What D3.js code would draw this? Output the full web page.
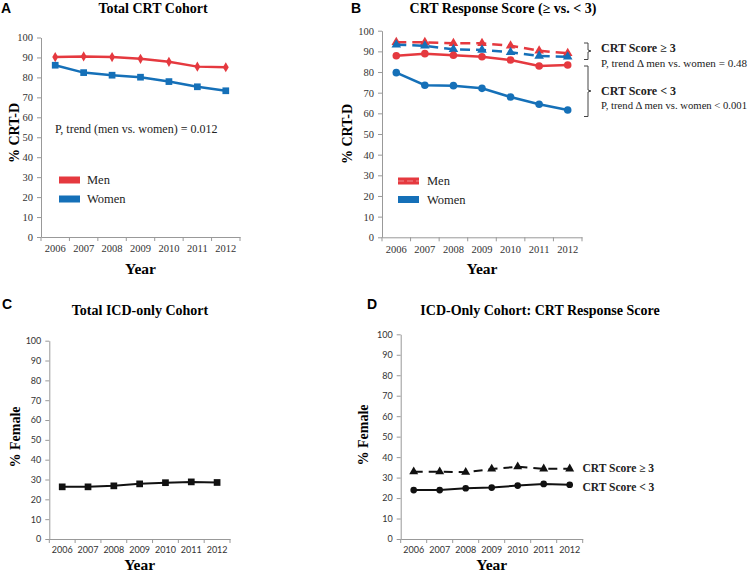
<!DOCTYPE html>
<html><head><meta charset="utf-8">
<script src="https://cdn.jsdelivr.net/npm/d3@7"></script>
<style>
html,body{margin:0;padding:0;background:#fff;}
svg{display:block;}
</style></head>
<body><svg id="c" width="756" height="574"></svg>
<script>
const years = ["2006","2007","2008","2009","2010","2011","2012"];
const yTicks = [0,10,20,30,40,50,60,70,80,90,100];
const aMen   = [90.2, 90.5, 90.2, 89.3, 87.8, 85.4, 85.1];
const aWomen = [86.1, 82.4, 81.1, 80.1, 77.9, 75.3, 73.3];
const bMenHigh   = [94.4, 94.4, 93.9, 93.9, 92.7, 90.3, 89.1];
const bWomenHigh = [93.2, 92.7, 91.0, 90.7, 89.6, 87.8, 87.4];
const bMenLow    = [87.9, 88.9, 88.1, 87.4, 85.8, 82.9, 83.4];
const bWomenLow  = [79.7, 73.6, 73.4, 72.1, 67.9, 64.4, 61.6];
const cFemale = [26.3, 26.3, 26.8, 27.8, 28.4, 28.8, 28.5];
const dHigh = [32.9, 32.9, 32.6, 34.2, 35.3, 34.3, 34.3];
const dLow  = [23.9, 23.9, 24.8, 25.1, 26.1, 26.9, 26.5];

const RED = "#e5393f", BLUE = "#1570b8", AX = "#999";
const SERIF = "'Liberation Serif', 'Times New Roman', Times, serif";
const SANS = "'Liberation Sans', Arial, sans-serif";
const CAL = "Lato, 'Open Sans', sans-serif";
const svg = d3.select("#c");

function ff(sel, f){ sel.style("font-family", f); return sel; }

function panel(o){
  const g = svg.append("g");
  const x = d3.scaleBand().domain(years).range([o.x0, o.x1]);
  const y = d3.scaleLinear().domain([0,100]).range([o.y0, o.y100]);
  const ya = g.append("g").attr("transform",`translate(${o.x0},0)`)
    .call(d3.axisLeft(y).tickValues(yTicks).tickSize(4).tickSizeOuter(0).tickPadding(4));
  ya.selectAll("path,line").attr("stroke",AX);
  ff(ya.selectAll("text"),o.tickFont).attr("font-size",o.tickSize||10.5).attr("fill","#333");
  const xa = g.append("g").attr("transform",`translate(0,${o.y0})`)
    .call(d3.axisBottom(x).tickSize(0).tickSizeOuter(0).tickPadding(8));
  xa.select("path").attr("stroke",AX);
  ff(xa.selectAll("text"),o.tickFont).attr("font-size",o.tickSize||10.5).attr("fill","#333");
  const bounds = years.map(d=>x(d)).concat([x(years[years.length-1])+x.bandwidth()]);
  xa.selectAll("line.b").data(bounds).enter().append("line").attr("class","b")
    .attr("x1",d=>d).attr("x2",d=>d).attr("y1",0).attr("y2",4).attr("stroke",AX);
  ff(g.append("text"),SANS).attr("x",o.letterX).attr("y",o.letterY).text(o.letter)
    .attr("font-weight","bold").attr("font-size",14);
  ff(g.append("text"),SERIF).attr("x",o.titleX).attr("y",o.titleY).attr("text-anchor","middle")
    .attr("font-weight","bold").attr("font-size",14).text(o.title);
  ff(g.append("text"),SERIF).attr("transform",`translate(${o.ytX},${o.ytY}) rotate(-90)`).attr("text-anchor","middle")
    .attr("font-weight","bold").attr("font-size",14).text(o.yTitle);
  ff(g.append("text"),SERIF).attr("x",(o.x0+o.x1)/2).attr("y",o.yearY).attr("text-anchor","middle")
    .attr("font-weight","bold").attr("font-size",15.5).text("Year");
  const cx = d=>x(d)+x.bandwidth()/2;
  function series(vals,color,dash,width,sym,size){
    const line = d3.line().x((v,i)=>cx(years[i])).y(v=>y(v));
    g.append("path").attr("d",line(vals)).attr("fill","none").attr("stroke",color)
      .attr("stroke-width",width).attr("stroke-dasharray",dash||null);
    g.selectAll(null).data(vals).enter().append("path")
      .attr("transform",(v,i)=>`translate(${cx(years[i])},${y(v)})`)
      .attr("d",d3.symbol().type(sym).size(size)).attr("fill",color);
  }
  function label(xx,yy,txt,size,bold){
    return ff(g.append("text"),SERIF).attr("x",xx).attr("y",yy).attr("font-size",size)
      .attr("font-weight",bold?"bold":null).attr("fill","#222").text(txt);
  }
  return {g,x,y,series,label};
}

// Panel A
const A = panel({x0:41,x1:240,y0:237,y100:37.5,tickFont:SERIF,letter:"A",letterX:1,letterY:13,
  title:"Total CRT Cohort",titleX:153,titleY:12.5,yTitle:"% CRT-D",ytX:19,ytY:133,yearY:274});
A.series(aMen,RED,null,2.5,d3.symbolDiamond,30);
A.series(aWomen,BLUE,null,2.5,d3.symbolSquare,45);
A.label(55,133,"P, trend (men vs. women) = 0.012",12);
[[RED,"Men",180],[BLUE,"Women",199]].forEach(([c,l,yy])=>{
  A.g.append("rect").attr("x",59).attr("y",yy-3.5).attr("width",21).attr("height",7).attr("fill",c);
  A.label(87,yy+4,l,12.5);
});

// Panel B
const B = panel({x0:382,x1:582,y0:237.3,y100:30.7,tickFont:SERIF,letter:"B",letterX:351,letterY:13,
  title:"CRT Response Score (≥ vs. < 3)",titleX:503,titleY:12.5,yTitle:"% CRT-D",ytX:352,ytY:134,yearY:274});
B.series(bMenHigh,RED,"10,6",2.5,d3.symbolTriangle,40);
B.series(bWomenHigh,BLUE,"10,6",2.5,d3.symbolTriangle,40);
B.series(bMenLow,RED,null,2.5,d3.symbolCircle,45);
B.series(bWomenLow,BLUE,null,2.5,d3.symbolCircle,45);
[[RED,"Men",181,true],[BLUE,"Women",199.5,false]].forEach(([c,l,yy,dashed])=>{
  B.g.append("rect").attr("x",398).attr("y",yy-3.5).attr("width",21).attr("height",7).attr("fill",c);
  if(dashed) B.g.append("line").attr("x1",398).attr("x2",419).attr("y1",yy).attr("y2",yy)
    .attr("stroke","#f08a8d").attr("stroke-width",1.2).attr("stroke-dasharray","6,3");
  B.label(427,yy+4,l,12.5);
});
function brace(g,xx,top,bot,mid){
  g.append("path").attr("d",`M${xx},${top} h4 V${mid-1} l3,1 l-3,1 V${bot} h-4`)
    .attr("fill","none").attr("stroke","#444").attr("stroke-width",1);
}
brace(B.g,584,43,59.5,51);
brace(B.g,584,66,116.5,91);
B.label(601,52,"CRT Score ≥ 3",12,true);
B.label(601,66.5,"P, trend Δ men vs. women = 0.48",11).attr("textLength",146).attr("lengthAdjust","spacingAndGlyphs");
B.label(601,95,"CRT Score < 3",12,true);
B.label(601,108.5,"P, trend Δ men vs. women < 0.001",11).attr("textLength",146).attr("lengthAdjust","spacingAndGlyphs");

// Panel C
const C = panel({x0:49.3,x1:230,y0:539,y100:340.7,tickFont:CAL,tickSize:9,letter:"C",letterX:2,letterY:309,
  title:"Total ICD-only Cohort",titleX:140,titleY:315,yTitle:"% Female",ytX:20,ytY:437,yearY:570});
C.series(cFemale,"#111",null,2,d3.symbolSquare,45);

// Panel D
const D = panel({x0:400.7,x1:582.7,y0:539,y100:334.3,tickFont:CAL,tickSize:9,letter:"D",letterX:367,letterY:309,
  title:"ICD-Only Cohort: CRT Response Score",titleX:540,titleY:315,yTitle:"% Female",ytX:368,ytY:435,yearY:570});
D.series(dHigh,"#111","9,6",2,d3.symbolTriangle,35);
D.series(dLow,"#111",null,2,d3.symbolCircle,35);
D.label(582.5,471.5,"CRT Score ≥ 3",11.5,true);
D.label(582.5,490.5,"CRT Score < 3",11.5,true);
</script></body></html>
